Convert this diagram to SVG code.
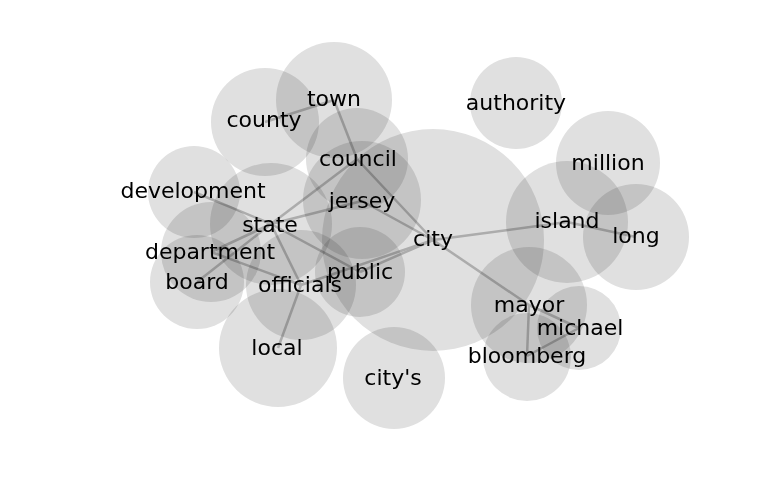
<svg xmlns="http://www.w3.org/2000/svg" width="768" height="500" viewBox="0 0 768 500">
<style>
.bg{fill:#ffffff}
.edge{stroke:#c4c4c4;stroke-width:2.5;fill:none}
.node circle{fill:#e0e0e0;mix-blend-mode:multiply}
.node text{font-family:"DejaVu Sans","Liberation Sans",sans-serif;font-size:22px;fill:#000000;text-anchor:middle}
</style>
<rect class="bg" x="0" y="0" width="768" height="500"/>
<g id="connectors">
<line class="edge" x1="265" y1="122" x2="334" y2="100"/>
<line class="edge" x1="334" y1="100" x2="357" y2="159"/>
<line class="edge" x1="357" y1="159" x2="433" y2="240"/>
<line class="edge" x1="357" y1="159" x2="271" y2="224"/>
<line class="edge" x1="362" y1="201" x2="271" y2="224"/>
<line class="edge" x1="362" y1="201" x2="433" y2="240"/>
<line class="edge" x1="194" y1="192" x2="271" y2="224"/>
<line class="edge" x1="271" y1="224" x2="211" y2="252"/>
<line class="edge" x1="271" y1="224" x2="197" y2="282"/>
<line class="edge" x1="271" y1="224" x2="301" y2="285"/>
<line class="edge" x1="271" y1="224" x2="360" y2="272"/>
<line class="edge" x1="211" y1="252" x2="301" y2="285"/>
<line class="edge" x1="301" y1="285" x2="278" y2="348"/>
<line class="edge" x1="301" y1="285" x2="433" y2="240"/>
<line class="edge" x1="360" y1="272" x2="433" y2="240"/>
<line class="edge" x1="433" y1="240" x2="567" y2="222"/>
<line class="edge" x1="567" y1="222" x2="636" y2="237"/>
<line class="edge" x1="433" y1="240" x2="529" y2="305"/>
<line class="edge" x1="529" y1="305" x2="579" y2="328"/>
<line class="edge" x1="529" y1="305" x2="527" y2="356"/>
<line class="edge" x1="579" y1="328" x2="527" y2="356"/>
</g>
<g id="node-city" class="node"><circle cx="433" cy="240" r="111"/><text x="433" y="246">city</text></g>
<g id="node-town" class="node"><circle cx="334" cy="100" r="58"/><text x="334" y="106">town</text></g>
<g id="node-county" class="node"><circle cx="265" cy="122" r="54"/><text x="264" y="127">county</text></g>
<g id="node-council" class="node"><circle cx="357" cy="159" r="51"/><text x="358" y="166">council</text></g>
<g id="node-jersey" class="node"><circle cx="362" cy="200" r="59"/><text x="362" y="208">jersey</text></g>
<g id="node-state" class="node"><circle cx="271" cy="224" r="61"/><text x="270" y="232">state</text></g>
<g id="node-development" class="node"><circle cx="194" cy="192" r="46"/><text x="193" y="198">development</text></g>
<g id="node-department" class="node"><circle cx="211" cy="252" r="50"/><text x="210" y="259">department</text></g>
<g id="node-board" class="node"><circle cx="197" cy="282" r="47"/><text x="197" y="289">board</text></g>
<g id="node-officials" class="node"><circle cx="301" cy="285" r="55"/><text x="300" y="292">officials</text></g>
<g id="node-public" class="node"><circle cx="360" cy="272" r="45"/><text x="360" y="279">public</text></g>
<g id="node-local" class="node"><circle cx="278" cy="348" r="59"/><text x="277" y="355">local</text></g>
<g id="node-citys" class="node"><circle cx="394" cy="378" r="51"/><text x="393" y="385">city's</text></g>
<g id="node-authority" class="node"><circle cx="516" cy="103" r="46"/><text x="516" y="110">authority</text></g>
<g id="node-million" class="node"><circle cx="608" cy="163" r="52"/><text x="608" y="170">million</text></g>
<g id="node-island" class="node"><circle cx="567" cy="222" r="61"/><text x="567" y="228">island</text></g>
<g id="node-long" class="node"><circle cx="636" cy="237" r="53"/><text x="636" y="243">long</text></g>
<g id="node-mayor" class="node"><circle cx="529" cy="305" r="58"/><text x="529" y="312">mayor</text></g>
<g id="node-michael" class="node"><circle cx="579" cy="328" r="42"/><text x="580" y="335">michael</text></g>
<g id="node-bloomberg" class="node"><circle cx="527" cy="357" r="44"/><text x="527" y="363">bloomberg</text></g>
</svg>
